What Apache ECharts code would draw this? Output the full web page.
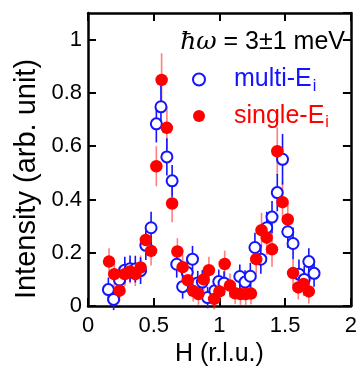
<!DOCTYPE html>
<html>
<head>
<meta charset="utf-8">
<script src="https://cdn.jsdelivr.net/npm/echarts@6/dist/echarts.min.js"></script>
<style>
  html, body { margin: 0; padding: 0; background: #fff; }
  #chart { width: 360px; height: 372px; }
</style>
</head>
<body>
<div id="chart"></div>
<script>
// single-E_i (red, filled)
const singleH = [0.16, 0.20, 0.24, 0.28, 0.32, 0.36, 0.40, 0.44, 0.48, 0.52, 0.56, 0.60, 0.64, 0.68, 0.72, 0.76, 0.80, 0.84, 0.88, 0.92,
  0.96, 1.00, 1.04, 1.08, 1.12, 1.16, 1.20, 1.24, 1.28, 1.32, 1.36, 1.40, 1.44, 1.48, 1.52, 1.56, 1.60, 1.64, 1.68];
const singleI = [0.167, 0.12, 0.058, 0.12, 0.13, 0.12, 0.145, 0.248, 0.207, 0.525, 0.849, 0.669, 0.385, 0.205, 0.146, 0.097, 0.057, 0.045, 0.10, 0.135,
  0.027, 0.055, 0.158, 0.077, 0.048, 0.045, 0.045, 0.047, 0.176, 0.285, 0.257, 0.213, 0.581, 0.39, 0.325, 0.124, 0.07, 0.083, 0.055];
const singleErr = [0.05, 0.045, 0.04, 0.045, 0.045, 0.045, 0.045, 0.055, 0.055, 0.075, 0.1, 0.08, 0.07, 0.05, 0.045, 0.045, 0.04, 0.04, 0.045, 0.05,
  0.04, 0.04, 0.05, 0.045, 0.04, 0.04, 0.04, 0.04, 0.055, 0.065, 0.065, 0.065, 0.09, 0.075, 0.065, 0.05, 0.045, 0.045, 0.045];

// multi-E_i (blue, open)
const multiH = [0.155, 0.195, 0.24, 0.28, 0.32, 0.36, 0.40, 0.44, 0.48, 0.52, 0.555, 0.60, 0.64, 0.675, 0.72, 0.755, 0.795, 0.835, 0.87,
  0.91, 0.965, 0.995, 1.035, 1.155, 1.195, 1.235, 1.27, 1.315, 1.36, 1.40, 1.44, 1.48, 1.52, 1.56, 1.605, 1.645, 1.68, 1.72];
const multiI = [0.062, 0.025, 0.098, 0.135, 0.14, 0.139, 0.133, 0.228, 0.294, 0.684, 0.748, 0.56, 0.47, 0.157, 0.073, 0.126, 0.176, 0.087, 0.09,
  0.032, 0.058, 0.092, 0.086, 0.111, 0.09, 0.112, 0.22, 0.176, 0.294, 0.334, 0.426, 0.551, 0.279, 0.235, 0.12, 0.10, 0.167, 0.123];
const multiErr = [0.045, 0.04, 0.05, 0.05, 0.05, 0.05, 0.05, 0.055, 0.06, 0.07, 0.08, 0.07, 0.06, 0.05, 0.045, 0.05, 0.05, 0.045, 0.045,
  0.04, 0.045, 0.045, 0.045, 0.045, 0.045, 0.05, 0.055, 0.055, 0.06, 0.06, 0.07, 0.095, 0.06, 0.06, 0.055, 0.05, 0.05, 0.05];

const xTicks = [0, 0.5, 1, 1.5, 2];
const yTicks = [0, 0.2, 0.4, 0.6, 0.8, 1];

const blue = "#1414ff";
const red = "#ff0000";
const font = "Liberation Sans, Arial, sans-serif";

function points(hs, is) {
  return hs.map((h, k) => [h, is[k]]);
}
function bars(hs, is, errs) {
  return hs.map((h, k) => [h, is[k] - errs[k], is[k] + errs[k]]);
}
function errorBarSeries(name, data, color, z) {
  return {
    type: "custom",
    name,
    data,
    silent: true,
    renderItem: (params, api) => {
      const lo = api.coord([api.value(0), api.value(1)]);
      const hi = api.coord([api.value(0), api.value(2)]);
      return {
        type: "line",
        shape: { x1: lo[0], y1: lo[1], x2: hi[0], y2: hi[1] },
        style: { stroke: color, lineWidth: 1.6 }
      };
    },
    encode: { x: 0, y: [1, 2] },
    z
  };
}

const axisCommon = {
  axisLine: { onZero: false, lineStyle: { color: "#000", width: 2.5 } },
  axisTick: { inside: true, length: 8, lineStyle: { color: "#000", width: 2 } },
  splitLine: { show: false }
};

const chart = echarts.init(document.getElementById("chart"), null, { renderer: "canvas" });
chart.setOption({
  animation: false,
  backgroundColor: "#fff",
  grid: { left: 88, right: 7, top: 13, bottom: 63 },
  xAxis: [
    Object.assign({}, axisCommon, {
      type: "value", min: xTicks[0], max: xTicks[xTicks.length - 1], interval: 0.5,
      name: "H (r.l.u.)", nameLocation: "middle", nameGap: 33,
      nameTextStyle: { fontFamily: font, fontSize: 25, color: "#000" },
      axisLabel: { fontFamily: font, fontSize: 22, color: "#000", margin: 9 }
    }),
    Object.assign({}, axisCommon, {
      type: "value", position: "top", min: 0, max: 2, interval: 0.5,
      axisLabel: { show: false }
    })
  ],
  yAxis: [
    Object.assign({}, axisCommon, {
      type: "value", min: 0, max: 1.1, interval: 0.2,
      axisLabel: { fontFamily: font, fontSize: 22, color: "#000", margin: 6, showMaxLabel: false,
        formatter: (v) => (yTicks.indexOf(+v.toFixed(1)) >= 0 ? String(+v.toFixed(1)) : "") }
    }),
    Object.assign({}, axisCommon, {
      type: "value", position: "right", min: 0, max: 1.1, interval: 0.2,
      axisLabel: { show: false }
    })
  ],
  legend: {
    orient: "vertical",
    left: 187,
    top: 62,
    itemWidth: 16,
    itemHeight: 12,
    itemGap: 9,
    selectedMode: false,
    data: [
      { name: "multi-E_i", textStyle: { color: blue } },
      { name: "single-E_i", textStyle: { color: red } }
    ],
    formatter: (name) => "{m|" + name.split("_")[0] + "}{s|" + name.split("_")[1] + "}",
    textStyle: {
      fontFamily: font, fontSize: 25,
      rich: {
        m: { fontFamily: font, fontSize: 25, padding: [0, 0, 0, 22] },
        s: { fontFamily: font, fontSize: 16, padding: [14, 0, 0, 1] }
      }
    }
  },
  graphic: [{
    type: "text",
    right: 15,
    top: 30,
    style: {
      text: "{it|ħω} = 3±1 meV",
      fill: "#000",
      font: "25px " + font,
      rich: {
        it: { fontFamily: "DejaVu Serif, serif", fontStyle: "italic", fontSize: 25 }
      }
    },
    z: 100
  }, {
    type: "text",
    x: 27,
    y: 179,
    rotation: Math.PI / 2,
    style: {
      text: "Intensity (arb. unit)",
      fill: "#000",
      font: "29px " + font,
      align: "center",
      verticalAlign: "middle"
    },
    z: 100
  }],
  series: [
    errorBarSeries("single-err", bars(singleH, singleI, singleErr), "rgba(255,40,40,0.6)", 2),
    errorBarSeries("multi-err", bars(multiH, multiI, multiErr), blue, 3),
    {
      type: "scatter", name: "multi-E_i",
      data: points(multiH, multiI),
      symbol: "emptyCircle", symbolSize: 11,
      itemStyle: { color: blue, borderWidth: 1.3, opacity: 1 },
      z: 4
    },
    {
      type: "scatter", name: "single-E_i",
      data: points(singleH, singleI),
      symbol: "circle", symbolSize: 12.5,
      itemStyle: { color: red, opacity: 1 },
      z: 5
    }
  ]
});
</script>
</body>
</html>
